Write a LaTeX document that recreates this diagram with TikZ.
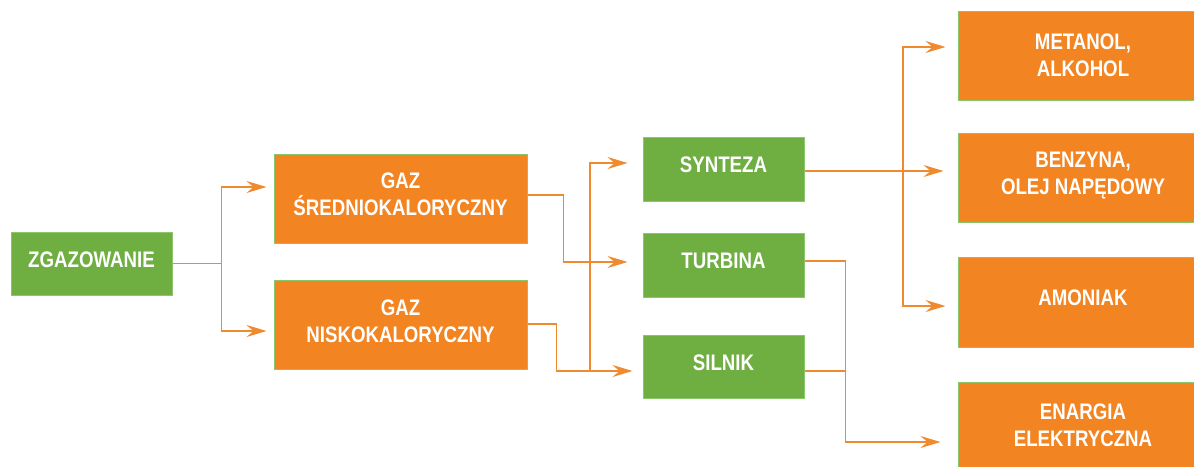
\documentclass[tikz,border=0pt]{standalone}
\usepackage{fontspec}
\newfontfamily\lab[FakeStretch=0.83,UprightFont=* Bold]{Liberation Sans}
\usetikzlibrary{arrows.meta}
\definecolor{gfill}{HTML}{6FAE40}
\definecolor{gline}{HTML}{8CC66A}
\definecolor{ofill}{HTML}{F28421}
\definecolor{oline}{HTML}{F08A2E}
\tikzset{
  box/.style={draw=gline, line width=1pt, text=white, align=center,
    font=\lab\fontsize{22.5}{27}\selectfont, inner sep=0pt, text depth=8pt},
  gbox/.style={box, fill=gfill},
  obox/.style={box, fill=ofill},
  conn/.style={draw=oline, line width=1.2pt,
    -{Stealth[length=20pt,width=12pt,inset=7pt]}},
  plain/.style={draw=oline, line width=1.2pt},
}
\begin{document}
\begin{tikzpicture}[x=1pt,y=-1pt]
\useasboundingbox (0,0) rectangle (1194,466);
\clip (0,0) rectangle (1194,466);
\node[gbox, minimum width=161pt, minimum height=63pt] (zg) at (91.5,263.5) {ZGAZOWANIE};
\node[obox, minimum width=253pt, minimum height=89pt] (sr) at (400.5,198.5) {GAZ\\ŚREDNIOKALORYCZNY};
\node[obox, minimum width=253pt, minimum height=89pt] (ni) at (400.5,325) {GAZ\\NISKOKALORYCZNY};
\node[gbox, minimum width=161pt, minimum height=64pt] (sy) at (723.5,169) {SYNTEZA};
\node[gbox, minimum width=161pt, minimum height=64pt] (tu) at (723.5,265) {TURBINA};
\node[gbox, minimum width=161pt, minimum height=63pt] (si) at (723.5,366.5) {SILNIK};
\node[obox, minimum width=250pt, minimum height=89pt, text depth=0pt] (me) at (1083,55.5) {METANOL,\\ALKOHOL};
\node[obox, minimum width=250pt, minimum height=89pt] (be) at (1083,177.5) {BENZYNA,\\OLEJ NAPĘDOWY};
\node[obox, minimum width=250pt, minimum height=90pt] (am) at (1083,302) {AMONIAK};
\node[obox, minimum width=250pt, minimum height=89pt, text depth=2pt] (en) at (1083,426.5) {ENARGIA\\ELEKTRYCZNA};
\coordinate (j1) at (590,371);
\coordinate (j2) at (903,171);
\coordinate (j3) at (845,371);
% connectors
\draw[conn, shorten >=7pt] (zg.east) -- ++(49,0) |- ([yshift=11.5pt]sr.west);
\draw[conn, shorten >=7pt] (zg.east) -- ++(49,0) |- ([yshift=-6pt]ni.west);
\draw[conn, shorten >=15pt] ([yshift=3.5pt]sr.east) -- ++(36,0) |- ([yshift=3pt]tu.west);
\draw[conn, shorten >=10pt] ([yshift=1pt]ni.east) -- ++(29,0) |- ([yshift=-4.5pt]si.west);
\draw[conn, shorten >=15pt] (j1) |- ([yshift=6pt]sy.west);
\draw[conn, shorten >=14pt] ([yshift=-2pt]sy.east) -- ([yshift=-2pt]sy.east -| be.west);
\draw[conn, shorten >=12pt] (j2) |- ([yshift=8.5pt]me.west);
\draw[conn, shorten >=12pt] (j2) |- ([yshift=-4pt]am.west);
\draw[conn, shorten >=17pt] ([yshift=4pt]tu.east) -- ++(41,0) |- ([yshift=-15.5pt]en.west);
\draw[plain] ([yshift=-4.5pt]si.east) -- (j3);
\end{tikzpicture}
\end{document}
